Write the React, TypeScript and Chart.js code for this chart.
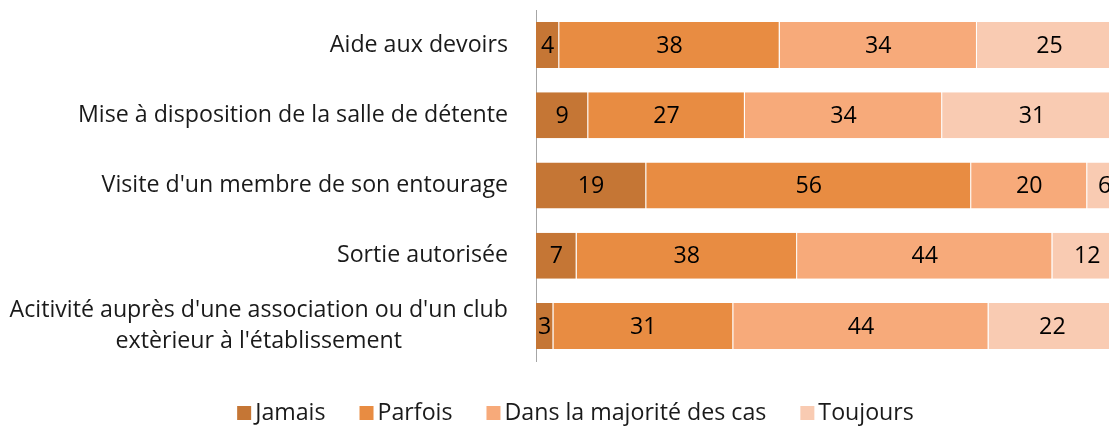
import React, { useEffect, useRef } from "react";
import { Chart, registerables } from "chart.js";

Chart.register(...registerables);

const categories: (string | string[])[] = [
  "Aide aux devoirs",
  "Mise à disposition de la salle de détente",
  "Visite d'un membre de son entourage",
  "Sortie autorisée",
  ["Acitivité auprès d'une association ou d'un club", "extèrieur à l'établissement"],
];
const seriesNames = ["Jamais", "Parfois", "Dans la majorité des cas", "Toujours"];
const jamais = [4, 9, 19, 7, 3];
const parfois = [38, 27, 56, 38, 31];
const majorite = [34, 34, 20, 44, 44];
const toujours = [25, 31, 6, 12, 22];
const colors = ["#C57635", "#E88C42", "#F7AA7A", "#F9CBB2"];

const FONT = "23.2px 'Open Sans'";

const yLabelsPlugin = {
  id: "yLabels",
  afterDraw(chart: any) {
    const ctx = chart.ctx;
    const y = chart.scales.y;
    ctx.save();
    ctx.font = FONT;
    ctx.fillStyle = "#1a1a1a";
    ctx.textBaseline = "middle";
    ctx.textAlign = "center";
    const right = 508;
    const lh = 31;
    categories.forEach((lab, i) => {
      const lines = Array.isArray(lab) ? lab : [lab];
      const maxW = Math.max(...lines.map((l) => ctx.measureText(l).width));
      const cx = right - maxW / 2;
      const cy = y.getPixelForValue(i);
      const top = cy - ((lines.length - 1) * lh) / 2;
      lines.forEach((l, k) => ctx.fillText(l, cx, top + k * lh));
    });
    ctx.restore();
  },
};

const dataLabelsPlugin = {
  id: "dataLabels",
  afterDatasetsDraw(chart: any) {
    const ctx = chart.ctx;
    ctx.save();
    ctx.font = FONT;
    ctx.fillStyle = "#000";
    ctx.textAlign = "center";
    ctx.textBaseline = "middle";
    chart.data.datasets.forEach((ds: any, di: number) => {
      const meta = chart.getDatasetMeta(di);
      meta.data.forEach((bar: any, i: number) => {
        const v = ds.data[i];
        const cx = (bar.x + bar.base) / 2;
        ctx.fillText(String(v), cx, bar.y + 1);
      });
    });
    ctx.restore();
  },
};

const legendPlugin = {
  id: "customLegend",
  afterDraw(chart: any) {
    const ctx = chart.ctx;
    ctx.save();
    ctx.font = FONT;
    ctx.textBaseline = "middle";
    ctx.textAlign = "left";
    const box = 14;
    const gapText = 4;
    const gapItem = 34;
    const widths = seriesNames.map((n) => box + gapText + ctx.measureText(n).width);
    const total = widths.reduce((a, b) => a + b, 0) + gapItem * (widths.length - 1);
    let x = 575.5 - total / 2;
    const cy = 413;
    seriesNames.forEach((n, i) => {
      ctx.fillStyle = colors[i];
      ctx.fillRect(x, cy - box / 2, box, box);
      ctx.fillStyle = "#1a1a1a";
      ctx.fillText(n, x + box + gapText, cy);
      x += widths[i] + gapItem;
    });
    ctx.restore();
  },
};

export default function App() {
  const ref = useRef<HTMLCanvasElement>(null);
  useEffect(() => {
    if (!ref.current) return;
    const seriesData = [jamais, parfois, majorite, toujours];
    const chart = new Chart(ref.current, {
      type: "bar",
      data: {
        labels: categories as any,
        datasets: seriesNames.map((name, i) => ({
          label: name,
          data: seriesData[i],
          backgroundColor: colors[i],
          borderColor: "rgba(255,255,255,0.55)",
          borderWidth: { right: 1, left: 0, top: 0, bottom: 0 },
          borderSkipped: false,
          barPercentage: 0.655,
          categoryPercentage: 1,
        })),
      },
      options: {
        indexAxis: "y",
        responsive: false,
        animation: false,
        devicePixelRatio: 1,
        layout: { padding: { top: 10, bottom: 65, left: 0, right: 0 } },
        plugins: {
          legend: { display: false },
          tooltip: { enabled: false },
        },
        scales: {
          x: {
            stacked: true,
            min: 0,
            max: 101,
            display: false,
          },
          y: {
            stacked: true,
            grid: { display: false },
            border: { display: true, color: "#A6A6A6", width: 1 },
            ticks: { display: false },
            afterFit(scale: any) {
              scale.width = 536;
            },
          },
        },
      },
      plugins: [dataLabelsPlugin, yLabelsPlugin, legendPlugin],
    });
    return () => chart.destroy();
  }, []);
  return (
    <div
      style={{
        position: "fixed",
        left: 0,
        top: 0,
        width: 1109,
        height: 426,
        overflow: "hidden",
        background: "#fff",
      }}
    >
      <canvas ref={ref} width={1122} height={426} style={{ width: 1122, height: 426, display: "block" }} />
    </div>
  );
}
